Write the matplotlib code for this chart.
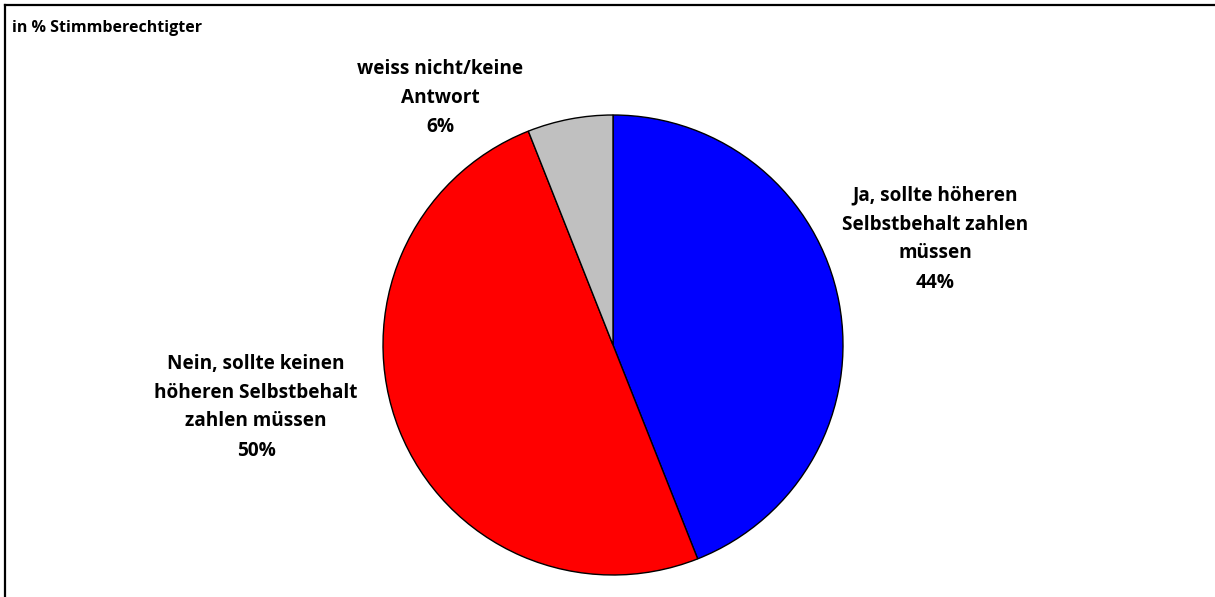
import matplotlib
matplotlib.use("Agg")
import matplotlib.pyplot as plt
from matplotlib.lines import Line2D

categories = ["Ja, sollte höheren\nSelbstbehalt zahlen\nmüssen",
              "Nein, sollte keinen\nhöheren Selbstbehalt\nzahlen müssen",
              "weiss nicht/keine\nAntwort"]
values = [44, 50, 6]
colors = ["#0000ff", "#ff0000", "#c0c0c0"]
title = "in % Stimmberechtigter"

W, H = 1215, 597
fig = plt.figure(figsize=(W / 100, H / 100), dpi=100)
ax = fig.add_axes([0, 0, 1, 1])

cx, cy, r = 613, H - 345, 230
ax.pie(values, colors=colors, startangle=90, counterclock=False,
       center=(cx, cy), radius=r, frame=True,
       wedgeprops=dict(edgecolor="black", linewidth=1.0))
ax.set_xlim(0, W)
ax.set_ylim(0, H)
ax.axis("off")

font = dict(family="Open Sans", fontweight="bold", fontsize=13.7, color="black")
label_pos = [(935, H - 239), (256, H - 407), (440, H - 98)]
for cat, v, (x, y) in zip(categories, values, label_pos):
    ax.text(x, y, f"{cat}\n{v}%", ha="center", va="center",
            linespacing=1.6, **font)

ax.text(12, H - 28, title, ha="left", va="center",
        family="Open Sans", fontweight="bold", fontsize=11.5)

# frame lines (top and left)
fig.add_artist(Line2D([4.5 / W, 1], [1 - 4.5 / H, 1 - 4.5 / H], transform=fig.transFigure, color="black", lw=1.6))
fig.add_artist(Line2D([4.5 / W, 4.5 / W], [0, 1 - 4.5 / H], transform=fig.transFigure, color="black", lw=1.6))

fig.savefig("out.png", dpi=100, facecolor="white")
